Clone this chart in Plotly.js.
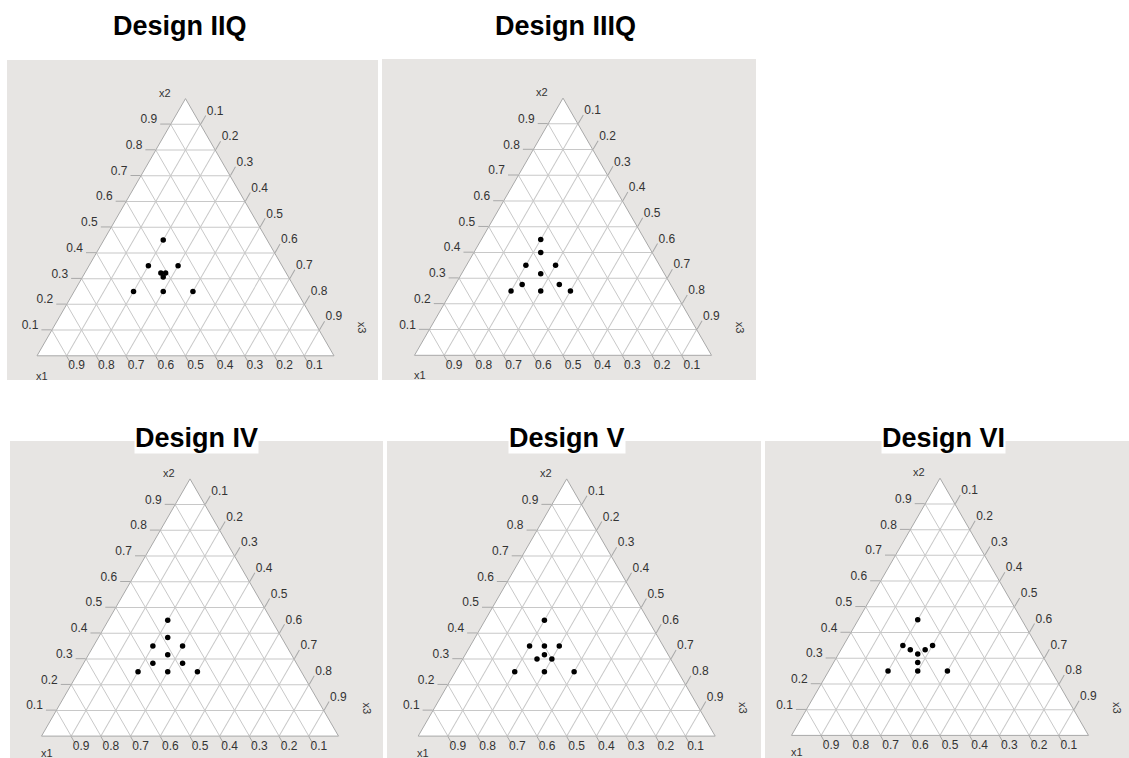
<!DOCTYPE html>
<html>
<head>
<meta charset="utf-8">
<script src="https://cdn.plot.ly/plotly-3.0.1.min.js"></script>
<style>
  html, body { margin: 0; padding: 0; background: #ffffff; }
  #chart { width: 1129px; height: 758px; }
</style>
</head>
<body>
<div id="chart"></div>
<script>
// Mixture designs on the simplex: proportions x1, x2, x3 (each row sums to 1)
const designNames = ['Design IIQ', 'Design IIIQ', 'Design IV', 'Design V', 'Design VI'];

const iiqX1 = [0.35, 0.45, 0.35, 0.55, 0.45, 0.35, 0.422, 0.406, 0.422];
const iiqX2 = [0.45, 0.35, 0.35, 0.25, 0.25, 0.25, 0.322, 0.322, 0.306];
const iiqX3 = [0.20, 0.20, 0.30, 0.20, 0.30, 0.40, 0.256, 0.272, 0.272];

const iiiqX1 = [0.35, 0.375, 0.45, 0.35, 0.4167, 0.50, 0.375, 0.55, 0.45, 0.35];
const iiiqX2 = [0.45, 0.40, 0.35, 0.35, 0.3167, 0.275, 0.275, 0.25, 0.25, 0.25];
const iiiqX3 = [0.20, 0.225, 0.20, 0.30, 0.2667, 0.225, 0.35, 0.20, 0.30, 0.40];

const ivX1 = [0.35, 0.3833, 0.45, 0.35, 0.4167, 0.4833, 0.3833, 0.55, 0.45, 0.35];
const ivX2 = [0.45, 0.3833, 0.35, 0.35, 0.3167, 0.2833, 0.2833, 0.25, 0.25, 0.25];
const ivX3 = [0.20, 0.2333, 0.20, 0.30, 0.2667, 0.2333, 0.3333, 0.20, 0.30, 0.40];

const vX1 = [0.35, 0.45, 0.40, 0.35, 0.4167, 0.45, 0.40, 0.55, 0.45, 0.35];
const vX2 = [0.45, 0.35, 0.35, 0.35, 0.3167, 0.30, 0.30, 0.25, 0.25, 0.25];
const vX3 = [0.20, 0.20, 0.25, 0.30, 0.2667, 0.25, 0.30, 0.20, 0.30, 0.40];

const viX1 = [0.35, 0.45, 0.35, 0.4333, 0.3833, 0.4167, 0.4333, 0.55, 0.45, 0.35];
const viX2 = [0.45, 0.35, 0.35, 0.3333, 0.3333, 0.3167, 0.2833, 0.25, 0.25, 0.25];
const viX3 = [0.20, 0.20, 0.30, 0.2333, 0.2833, 0.2667, 0.2833, 0.20, 0.30, 0.40];

const tickValues = [0.1, 0.2, 0.3, 0.4, 0.5, 0.6, 0.7, 0.8, 0.9];
const axisLabels = { top: 'x2', left: 'x1', right: 'x3' };

const designData = [
  [iiqX1, iiqX2, iiqX3],
  [iiiqX1, iiiqX2, iiiqX3],
  [ivX1, ivX2, ivX3],
  [vX1, vX2, vX3],
  [viX1, viX2, viX3]
];

// Page geometry (pixels): triangle centre, grey panel box, title centre
const FIG_W = 1129, FIG_H = 758;
const TRI_W = 297;
const TRI_H = TRI_W * Math.sqrt(3) / 2;
const panels = [
  { cx: 185.5, cy: 227.2, box: [7, 60, 378, 380],     title: [180, 26],  cornerDy: 20 },
  { cx: 563.0, cy: 226.7, box: [382, 59, 756, 380],   title: [565, 26],  cornerDy: 20 },
  { cx: 190.0, cy: 607.5, box: [10, 441, 383, 758],   title: [196, 438], cornerDy: 17 },
  { cx: 566.7, cy: 607.5, box: [387, 441, 761, 758],  title: [567, 438], cornerDy: 17 },
  { cx: 940.0, cy: 606.8, box: [765, 441, 1129, 758], title: [943, 438], cornerDy: 17 }
];

// Tick labels sit a little off the tick ends: the side labels are drawn by a
// copy of the ternary nudged up, the bottom labels by one nudged right/up.
const SIDE_LABEL_SHIFT = { dx: -1, dy: -3.5 };
const BOTTOM_LABEL_SHIFT = { dx: 5, dy: -11 };

const px = x => x / FIG_W;
const py = y => 1 - y / FIG_H;

const FONT = 'Liberation Sans, Arial, Helvetica, sans-serif';
const LINE_COLOR = '#a8a8a8';
const GRID_COLOR = '#c8c8c8';
const CLEAR = 'rgba(0,0,0,0)';
const TICK_FONT = { family: FONT, size: 12, color: '#333333' };

// fully styled axis: frame, grid and tick marks, no labels
function frameAxis() {
  return {
    tickmode: 'array', tickvals: tickValues,
    ticks: 'outside', ticklen: 10, tickwidth: 1, tickcolor: LINE_COLOR,
    showline: true, linecolor: LINE_COLOR, linewidth: 1,
    showgrid: true, gridcolor: GRID_COLOR, gridwidth: 1,
    layer: 'below traces', min: 0,
    showticklabels: false,
    title: { text: '' }
  };
}

// label-only axis: invisible ticks keep the label stand-off
function labelAxis(show) {
  return {
    tickmode: 'array', tickvals: tickValues,
    ticks: 'outside', ticklen: 10, tickwidth: 1, tickcolor: CLEAR,
    showline: false, showgrid: false, min: 0,
    showticklabels: show, tickfont: TICK_FONT,
    title: { text: '' }
  };
}

function domainFor(p, dx, dy) {
  const cx = p.cx + dx, cy = p.cy + dy;
  return {
    x: [px(cx - TRI_W / 2), px(cx + TRI_W / 2)],
    y: [py(cy + TRI_H / 2), py(cy - TRI_H / 2)]
  };
}

const traces = [];
const layout = {
  width: FIG_W,
  height: FIG_H,
  margin: { l: 0, r: 0, t: 0, b: 0 },
  paper_bgcolor: '#ffffff',
  showlegend: false,
  shapes: [],
  annotations: []
};

let subplotCount = 0;
function nextId() {
  subplotCount += 1;
  return subplotCount === 1 ? 'ternary' : 'ternary' + subplotCount;
}

panels.forEach((p, i) => {
  const [x1, x2, x3] = designData[i];

  // main diagram: a = x2 (top), b = x1 (bottom left), c = x3 (bottom right)
  const mainId = nextId();
  layout[mainId] = {
    domain: domainFor(p, 0, 0),
    sum: 1,
    bgcolor: '#ffffff',
    aaxis: frameAxis(), baxis: frameAxis(), caxis: frameAxis()
  };
  traces.push({
    type: 'scatterternary', subplot: mainId, mode: 'markers',
    a: x2, b: x1, c: x3,
    marker: { color: '#000000', size: 5.5, line: { width: 0 } },
    hoverinfo: 'skip'
  });

  // side tick labels (x2 on the left edge, x3 on the right edge)
  const sideId = nextId();
  layout[sideId] = {
    domain: domainFor(p, SIDE_LABEL_SHIFT.dx, SIDE_LABEL_SHIFT.dy),
    sum: 1, bgcolor: CLEAR,
    aaxis: labelAxis(true), baxis: labelAxis(false), caxis: labelAxis(true)
  };
  traces.push({
    type: 'scatterternary', subplot: sideId, mode: 'markers',
    a: x2, b: x1, c: x3, marker: { opacity: 0 }, hoverinfo: 'skip'
  });

  // bottom tick labels (x1)
  const bottomId = nextId();
  layout[bottomId] = {
    domain: domainFor(p, BOTTOM_LABEL_SHIFT.dx, BOTTOM_LABEL_SHIFT.dy),
    sum: 1, bgcolor: CLEAR,
    aaxis: labelAxis(false), baxis: labelAxis(true), caxis: labelAxis(false)
  };
  traces.push({
    type: 'scatterternary', subplot: bottomId, mode: 'markers',
    a: x2, b: x1, c: x3, marker: { opacity: 0 }, hoverinfo: 'skip'
  });

  // grey panel behind each diagram
  layout.shapes.push({
    type: 'rect', xref: 'paper', yref: 'paper', layer: 'below',
    x0: px(p.box[0]), x1: px(p.box[2]),
    y0: py(p.box[3]), y1: py(p.box[1]),
    fillcolor: '#e7e5e3', line: { width: 0 }
  });

  // diagram title
  layout.annotations.push({
    xref: 'paper', yref: 'paper',
    x: px(p.title[0]), y: py(p.title[1]),
    xanchor: 'center', yanchor: 'middle',
    text: '<b>' + designNames[i] + '</b>',
    showarrow: false,
    bgcolor: '#ffffff', borderpad: 0,
    font: { family: FONT, size: 27, color: '#000000' }
  });

  // component names at the corners
  const top = [p.cx, p.cy - TRI_H / 2];
  const bl = [p.cx - TRI_W / 2, p.cy + TRI_H / 2];
  const br = [p.cx + TRI_W / 2, p.cy + TRI_H / 2];
  const axFont = { family: FONT, size: 11, color: '#333333' };

  layout.annotations.push({
    xref: 'paper', yref: 'paper', x: px(top[0] - 21), y: py(top[1] - 6),
    xanchor: 'center', yanchor: 'middle', showarrow: false,
    text: axisLabels.top, font: axFont
  });
  layout.annotations.push({
    xref: 'paper', yref: 'paper', x: px(bl[0] + 5), y: py(bl[1] + p.cornerDy),
    xanchor: 'center', yanchor: 'middle', showarrow: false,
    text: axisLabels.left, font: axFont
  });
  layout.annotations.push({
    xref: 'paper', yref: 'paper', x: px(br[0] + 28), y: py(br[1] - 28),
    xanchor: 'center', yanchor: 'middle', showarrow: false, textangle: 90,
    text: axisLabels.right, font: axFont
  });
});

Plotly.newPlot('chart', traces, layout, { displayModeBar: false, staticPlot: true });
</script>
</body>
</html>
